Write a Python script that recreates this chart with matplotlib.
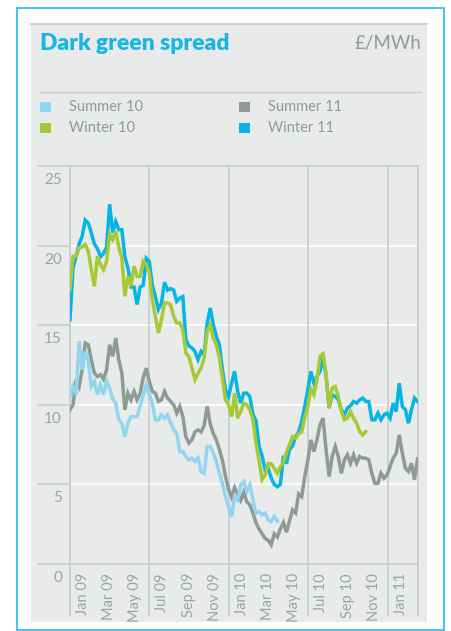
import matplotlib
matplotlib.use('Agg')
import matplotlib.pyplot as plt
import matplotlib.dates as mdates
from matplotlib.patches import Rectangle
from matplotlib.lines import Line2D
import pandas as pd

plt.rcParams['font.family'] = ['Lato', 'DejaVu Sans']

# weekly readings (GBP/MWh), starting 1 Jan 2009
summer10 = [10.5, 11.15, 10.65, 14.0, 12.2, 13.35, 12.72, 11.15, 11.47, 10.65,
            11.26, 10.65, 11.47, 11.05, 10.36, 10.1, 9.06, 8.85, 8.0, 8.85,
            9.26, 9.26, 9.26, 9.9, 10.63, 11.26, 10.65, 10.1, 9.06, 9.06,
            9.37, 9.16, 9.37, 8.85, 8.43, 8.22, 7.06, 7.06, 6.75, 6.54,
            6.65, 6.44, 6.65, 5.8, 5.7, 7.38, 7.38, 6.96, 6.44, 5.7,
            5.07, 4.23, 3.6, 2.98, 4.23, 4.03, 4.97, 5.18, 4.55, 4.97,
            4.03, 3.19, 3.29, 3.08, 3.19, 2.77, 2.66, 2.98, 2.7]

winter10 = [17.23, 19.33, 19.33, 19.85, 19.92, 20.06, 19.64, 18.49, 17.44, 19.33,
            18.8, 18.49, 19.01, 20.69, 20.38, 20.9, 19.9, 19.22, 16.81, 18.07,
            17.44, 18.7, 18.07, 18.07, 19.01, 18.8, 18.28, 16.6, 15.55, 14.51,
            15.35, 16.4, 16.4, 16.29, 15.55, 15.14, 15.14, 14.72, 13.25, 13.04,
            12.31, 11.57, 11.99, 12.31, 12.94, 14.61, 15.03, 14.19, 13.77, 12.94,
            11.68, 10.31, 10.0, 9.26, 10.73, 9.16, 9.58, 10.1, 10.0, 9.69,
            9.06, 7.6, 6.5, 5.3, 5.6, 6.3, 6.3, 6.0, 5.7, 6.1,
            6.4, 7.0, 7.5, 8.0, 7.9, 8.2, 8.3, 9.2, 9.9, 11.0,
            10.63, 11.57, 13.04, 13.21, 11.89, 9.79, 11.05, 11.15, 10.52, 9.58,
            9.06, 9.16, 9.58, 9.16, 8.85, 8.32, 8.11, 8.32]

summer11 = [9.69, 10.0, 11.57, 11.15, 12.2, 13.88, 13.77, 12.83, 11.99, 11.78,
            11.89, 11.61, 12.2, 13.77, 13.04, 14.19, 12.83, 11.99, 9.69, 10.73,
            10.31, 10.84, 10.31, 10.73, 11.68, 12.31, 11.47, 10.84, 10.73, 10.21,
            10.31, 10.84, 10.42, 10.21, 10.0, 9.48, 9.9, 9.26, 8.0, 7.6,
            7.8, 8.3, 8.43, 8.3, 8.7, 9.9, 8.8, 8.2, 7.8, 7.2,
            6.5, 5.5, 4.7, 4.2, 4.8, 4.4, 4.0, 4.5, 3.9, 3.7,
            3.2, 2.6, 2.2, 1.9, 1.6, 1.5, 1.2, 1.9, 1.7, 2.2,
            2.6, 2.0, 2.7, 3.4, 3.2, 4.4, 4.23, 5.5, 6.5, 7.8,
            7.06, 7.8, 8.74, 9.16, 7.17, 5.49, 6.75, 7.38, 6.75, 5.7,
            6.54, 6.86, 6.33, 6.86, 6.33, 6.75, 6.65, 6.65, 6.54, 5.7,
            5.07, 5.07, 5.7, 5.39, 5.6, 6.12, 6.65, 6.96, 8.11, 6.96,
            6.02, 5.81, 6.33, 5.3, 6.6]

winter11 = [15.35, 18.6, 19.3, 20.1, 20.6, 21.6, 21.4, 20.8, 20.1, 19.8,
            19.3, 19.5, 19.9, 22.6, 20.8, 21.5, 21.0, 21.0, 19.3, 18.6,
            17.4, 17.4, 16.3, 17.4, 17.5, 19.2, 19.0, 17.5, 16.8, 16.0,
            16.4, 17.7, 17.2, 17.3, 17.2, 16.5, 16.7, 16.8, 14.1, 13.7,
            13.57, 13.35, 12.83, 13.35, 13.14, 15.14, 16.08, 15.03, 14.3, 13.77,
            12.2, 10.94, 10.52, 11.36, 12.1, 10.84, 10.1, 10.73, 10.73, 10.52,
            9.4, 9.0, 7.4, 6.8, 5.9, 6.0, 5.4, 5.0, 4.85, 5.0,
            6.8, 6.3, 7.2, 7.4, 8.0, 8.3, 8.95, 9.9, 10.94, 12.1,
            11.36, 11.78, 12.1, 13.04, 11.78, 9.79, 10.63, 10.52, 10.31, 9.69,
            9.37, 9.79, 9.94, 10.21, 10.1, 10.31, 10.42, 10.21, 10.21, 9.06,
            9.06, 9.48, 9.06, 9.37, 9.48, 9.16, 10.1, 9.58, 11.36, 9.9,
            9.69, 8.85, 9.69, 10.42, 10.2]

series_names = ['Summer 10', 'Winter 10', 'Summer 11', 'Winter 11']
series_colors = ['#92d5f0', '#a6c934', '#8e9b94', '#05b5e3']
month_labels = ['Jan 09', 'Mar 09', 'May 09', 'Jul 09', 'Sep 09', 'Nov 09', 'Jan 10',
                'Mar 10', 'May 10', 'Jul 10', 'Sep 10', 'Nov 10', 'Jan 11']
yticks = [0, 5, 10, 15, 20, 25]
grid_dates = ['2009-01-01', '2009-07-01', '2010-01-01', '2010-07-01', '2011-01-01']

start = pd.Timestamp('2009-01-01')
end = start + pd.Timedelta(days=799)

W, H = 451, 631
fig = plt.figure(figsize=(W / 100, H / 100), dpi=100)
fx = lambda px: px / W
fy = lambda py: 1 - py / H

grey_line = '#c7cecc'
text_grey = '#8f9b97'

# frame and panel
fig.patches.append(Rectangle((fx(31), fy(622)), fx(427) - fx(31), fy(24) - fy(622),
                             transform=fig.transFigure, facecolor='#e9eaea', edgecolor='none', zorder=-5))
fig.patches.append(Rectangle((fx(16.5), fy(630)), fx(444) - fx(16.5), fy(8.5) - fy(630),
                             transform=fig.transFigure, fill=False, edgecolor='#2ab7e8', lw=1.2, zorder=-4))
fig.add_artist(Line2D([fx(31), fx(427)], [fy(24), fy(24)], color=grey_line, lw=1.3, zorder=-3))
fig.add_artist(Line2D([fx(40), fx(421)], [fy(92), fy(92)], color=grey_line, lw=1, zorder=-3))

fig.text(fx(40), fy(43), 'Dark green spread', fontsize=16.5, fontweight='heavy',
         color='#19b5e5', ha='left', va='center')
fig.text(fx(421), fy(43), '£/MWh', fontsize=13.5, color=text_grey, ha='right', va='center')

# legend
leg_x = [40, 40, 239, 239]
leg_y = [107, 128, 107, 128]
for name, c, lx, ly in zip(series_names, series_colors, leg_x, leg_y):
    fig.patches.append(Rectangle((fx(lx), fy(ly + 5)), fx(10.5), 10.5 / H,
                                 transform=fig.transFigure, facecolor=c, edgecolor='none', zorder=-3))
    fig.text(fx(lx + 29), fy(ly), name, fontsize=10.5, color=text_grey, ha='left', va='center')

ax = fig.add_axes([fx(70), fy(564), fx(418) - fx(70), fy(166) - fy(564)])
ax.set_facecolor('none')
ax.set_xlim(start, end)
ax.set_ylim(0, 25)
ax.axis('off')

ytrans = ax.get_yaxis_transform()
for v in yticks:
    inner = grey_line if v in (0, 25) else 'white'
    ax.plot([0, 1], [v, v], transform=ytrans, color=inner, lw=1.2, zorder=1, clip_on=False)
    ax.plot([-32 / 348, 0], [v, v], transform=ytrans, color=grey_line, lw=1.2, zorder=1, clip_on=False)
    ax.annotate(str(v), xy=(0, v), xycoords=ytrans, xytext=(-8, -14), textcoords='offset pixels',
                ha='right', va='center', fontsize=11, color='#9aa6a2')

for d in grid_dates + [end]:
    d = pd.Timestamp(d)
    ax.plot([d, d], [-3.2, 25], color=grey_line, lw=1.2, zorder=1, clip_on=False)

for i, lab in enumerate(month_labels):
    d = start + pd.DateOffset(months=2 * i) + pd.Timedelta(days=30)
    ax.annotate(lab, xy=(mdates.date2num(d), 0), xytext=(0, -9), textcoords='offset pixels',
                rotation=90, ha='center', va='top', fontsize=10.5, color='#9aa6a2')

# draw order: grey, light blue, cyan, green
draw = [(summer11, 2), (summer10, 0), (winter11, 3), (winter10, 1)]
for vals, idx in draw:
    dates = pd.date_range(start, periods=len(vals), freq='7D')
    ax.plot(dates, vals, color=series_colors[idx], lw=2.5, zorder=3, solid_joinstyle='miter')

fig.savefig('out.png', dpi=100)
